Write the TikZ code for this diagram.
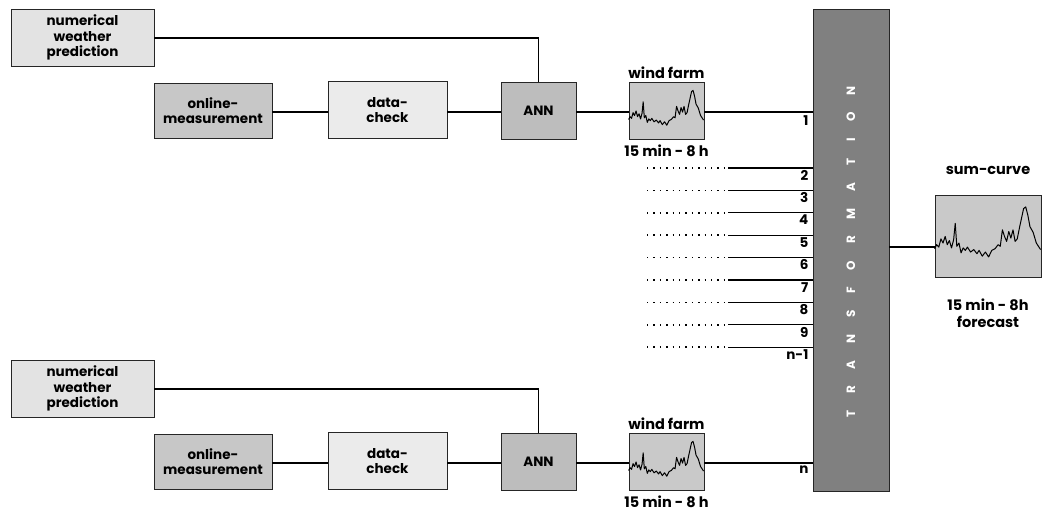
\documentclass[tikz,border=0pt]{standalone}
\usepackage{fontspec}
\setmainfont{Poppins}
\usetikzlibrary{positioning}

\definecolor{nwpgray}{gray}{0.89}
\definecolor{omgray}{gray}{0.78}
\definecolor{dcgray}{gray}{0.92}
\definecolor{anngray}{gray}{0.74}
\definecolor{wfgray}{gray}{0.79}
\definecolor{trgray}{gray}{0.50}

\tikzset{
  box/.style={draw=black!85, line width=0.9pt, align=center, inner sep=0pt,
    font=\bfseries\fontsize{13.5}{15.5}\selectfont},
  link/.style={line width=1.2pt},
  feed/.style={line width=1.6pt, dash pattern=on 1.4pt off 5pt},
  lbl/.style={inner sep=1pt, font=\bfseries\fontsize{14.5}{17}\selectfont},
  num/.style={anchor=north east, inner sep=1pt, font=\bfseries\fontsize{13.5}{14}\selectfont},
}

% jagged power curve, drawn inside a box
\newcommand{\windcurve}[3]{%
  \begin{scope}[shift={(#1.south west)}, x=#2pt, y=#3pt]
    \draw[line width=1pt, line join=round] plot coordinates {
      (0,0.35) (0.02,0.40) (0.04,0.37) (0.06,0.47) (0.08,0.42) (0.10,0.50)
      (0.12,0.40) (0.14,0.45) (0.16,0.36) (0.18,0.46) (0.195,0.66) (0.21,0.38)
      (0.23,0.42) (0.25,0.30) (0.27,0.36) (0.29,0.33) (0.31,0.37) (0.34,0.31)
      (0.37,0.34) (0.40,0.29) (0.42,0.33) (0.45,0.26) (0.48,0.31) (0.51,0.25)
      (0.54,0.33) (0.57,0.35) (0.60,0.40) (0.62,0.38) (0.64,0.58) (0.66,0.50)
      (0.68,0.44) (0.70,0.56) (0.72,0.48) (0.74,0.58) (0.76,0.44) (0.78,0.47)
      (0.80,0.60) (0.82,0.72) (0.84,0.84) (0.86,0.86) (0.88,0.76) (0.90,0.62)
      (0.93,0.55) (0.96,0.42) (1,0.34)};
  \end{scope}}

\begin{document}
\begin{tikzpicture}[x=1pt, y=-1pt]
  \useasboundingbox (0,0) rectangle (1042,514);

  % Transformation block
  \node[draw=black!85, line width=0.9pt, fill=trgray, minimum width=76pt,
    minimum height=482pt, inner sep=0pt] (trans) at (851,250) {};
  \node[rotate=90, text=white, inner sep=0pt,
    font=\bfseries\fontsize{12}{12}\selectfont\addfontfeature{LetterSpace=140}]
    (trtext) at (851,252) {TRANSFORMATION};

  % Two forecast chains
  \foreach \r/\dy/\k in {1/0/1, 2/351/n} {
    \node[box, fill=nwpgray, minimum width=143pt, minimum height=57pt]
      (nwp\r) at (82.5,37.5+\dy) {numerical\\weather\\prediction};
    \node[box, fill=omgray, minimum width=118pt, minimum height=55pt]
      (om\r) at (213,110.5+\dy) {online-\\measurement};
    \node[box, fill=dcgray, minimum width=119pt, minimum height=57pt]
      (dc\r) at (387.5,110+\dy) {data-\\check};
    \node[box, fill=anngray, minimum width=75pt, minimum height=57pt]
      (ann\r) at (538.5,110.5+\dy) {ANN};
    \node[box, fill=wfgray, minimum width=75pt, minimum height=57pt]
      (wf\r) at (666.5,110.5+\dy) {};
    \windcurve{wf\r}{75}{57}
    \node[lbl, above=2pt of wf\r] (wft\r) {wind farm};
    \node[lbl, below=4pt of wf\r] (wfb\r) {15 min - 8 h};

    \draw[link] (nwp\r.east |- 0,38+\dy) -| (ann\r.north);
    \draw[link] (om\r.east |- 0,112+\dy) -- (dc\r.west |- 0,112+\dy);
    \draw[link] (dc\r.east |- 0,112+\dy) -- (ann\r.west |- 0,112+\dy);
    \draw[link] (ann\r.east |- 0,112+\dy) -- (wf\r.west |- 0,112+\dy);
    \draw[link] (wf\r.east |- 0,112+\dy) -- (trans.west |- 0,112+\dy);
    \node[num] at ([xshift=-3pt, yshift=-2pt]trans.west |- 0,112+\dy) {\k};
  }

  % Further wind farms
  \foreach \y/\k in {168/2, 190.4/3, 212.8/4, 235.2/5, 257.6/6,
                     280/7, 302.4/8, 324.8/9, 347.2/n-1} {
    \coordinate (in\k) at (647,\y);
    \coordinate (mid\k) at (728,\y);
    \draw[feed] (in\k) -- (mid\k);
    \draw[link] (mid\k) -- (trans.west |- mid\k);
    \node[num] at ([xshift=-3pt, yshift=-1pt]trans.west |- mid\k) {\k};
  }

  % Sum curve
  \node[box, fill=wfgray, minimum width=106pt, minimum height=82pt]
    (sum) at (988,236) {};
  \windcurve{sum}{106}{82}
  \draw[link] ([yshift=-11pt]sum.west) -- (trans.east |- 0,247);
  \node[lbl, above=19pt of sum] (sumt) {sum-curve};
  \node[lbl, below=20pt of sum, align=center, font=\bfseries\fontsize{14.5}{17}\selectfont]
    (sumb) {15 min - 8h\\forecast};
\end{tikzpicture}
\end{document}
